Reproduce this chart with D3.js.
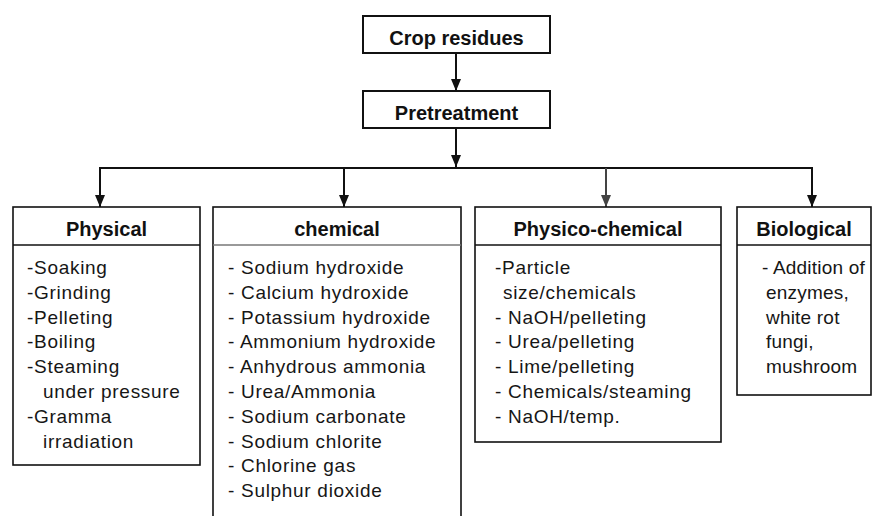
<!DOCTYPE html>
<html>
<head>
<meta charset="utf-8">
<script src="https://cdn.jsdelivr.net/npm/d3@7"></script>
<style>
  html, body { margin: 0; padding: 0; background: #fff; }
  svg { display: block; }
</style>
</head>
<body>
<div id="chart"></div>
<script>
// flowchart content
const rootLabels = ['Crop residues', 'Pretreatment'];
const groupTitles = ['Physical', 'chemical', 'Physico-chemical', 'Biological'];
// "|" marks a wrapped continuation line
const physicalItems = ['-Soaking', '-Grinding', '-Pelleting', '-Boiling', '-Steaming|under pressure', '-Gramma|irradiation'];
const chemicalItems = ['- Sodium hydroxide', '- Calcium hydroxide', '- Potassium hydroxide', '- Ammonium hydroxide',
  '- Anhydrous ammonia', '- Urea/Ammonia', '- Sodium carbonate', '- Sodium chlorite', '- Chlorine gas', '- Sulphur dioxide'];
const physicoItems = ['-Particle|size/chemicals', '- NaOH/pelleting', '- Urea/pelleting', '- Lime/pelleting',
  '- Chemicals/steaming', '- NaOH/temp.'];
const biologicalItems = ['- Addition of|enzymes,|white rot|fungi,|mushroom'];
const groupItems = [physicalItems, chemicalItems, physicoItems, biologicalItems];

// layout (kept apart from the content)
const W = 872, H = 516;
const rootBox = { x0: 363, x1: 550, tops: [16, 91], h: 37 };
const busY = 168;
const boxes = [
  { x0: 13,  x1: 200, bottom: 465, arrowX: 100, textX: 27,  indent: 16, spacing: 0.7 },
  { x0: 213, x1: 461, bottom: 530, arrowX: 344, textX: 228, indent: 0,  spacing: 0.7 },
  { x0: 475, x1: 721, bottom: 442, arrowX: 606, textX: 495, indent: 8,  spacing: 0.7 },
  { x0: 737, x1: 871, bottom: 395, arrowX: 812, textX: 762, indent: 4,  spacing: 0.2 }
];
const boxTop = 207, headerBottom = 245;
const firstBaseline = 274, lineStep = 24.8;
const rowY = d3.scaleLinear().domain([0, 1]).range([firstBaseline, firstBaseline + lineStep]);

const svg = d3.select('#chart').append('svg')
  .attr('width', W).attr('height', H)
  .style('font-family', '"Liberation Sans", Arial, sans-serif');

function arrow(x, y0, y1, color) {
  svg.append('line')
    .attr('x1', x).attr('x2', x).attr('y1', y0).attr('y2', y1)
    .attr('stroke', color || '#111').attr('stroke-width', 2);
  svg.append('path')
    .attr('d', 'M' + (x - 5) + ',' + (y1 - 12) + ' L' + (x + 5) + ',' + (y1 - 12) + ' L' + x + ',' + y1 + ' Z')
    .attr('fill', color || '#111');
}

// root boxes
rootLabels.forEach((label, i) => {
  const top = rootBox.tops[i];
  svg.append('rect')
    .attr('x', rootBox.x0).attr('y', top)
    .attr('width', rootBox.x1 - rootBox.x0).attr('height', rootBox.h)
    .attr('fill', '#fff').attr('stroke', '#111').attr('stroke-width', 2);
  svg.append('text')
    .attr('x', (rootBox.x0 + rootBox.x1) / 2).attr('y', top + 29)
    .attr('text-anchor', 'middle')
    .attr('font-size', 20).attr('font-weight', 'bold').attr('fill', '#111')
    .text(label);
});
const midX = (rootBox.x0 + rootBox.x1) / 2 - 0.5;
arrow(midX, rootBox.tops[0] + rootBox.h, rootBox.tops[1]);
arrow(midX, rootBox.tops[1] + rootBox.h, busY - 1);

// bus line
svg.append('line')
  .attr('x1', d3.min(boxes, b => b.arrowX) - 1).attr('x2', d3.max(boxes, b => b.arrowX) + 1)
  .attr('y1', busY).attr('y2', busY)
  .attr('stroke', '#111').attr('stroke-width', 2);

// group boxes
groupTitles.forEach((title, i) => {
  const b = boxes[i];
  arrow(b.arrowX, busY, boxTop, i === 2 ? '#444' : '#111');
  const g = svg.append('g');
  g.append('rect')
    .attr('x', b.x0).attr('y', boxTop)
    .attr('width', b.x1 - b.x0).attr('height', b.bottom - boxTop)
    .attr('fill', '#fff').attr('stroke', '#111').attr('stroke-width', 1.6);
  g.append('line')
    .attr('x1', b.x0).attr('x2', b.x1).attr('y1', headerBottom).attr('y2', headerBottom)
    .attr('stroke', i === 1 ? '#777' : '#111').attr('stroke-width', 1.6);
  g.append('text')
    .attr('x', (b.x0 + b.x1) / 2).attr('y', headerBottom - 9)
    .attr('text-anchor', 'middle')
    .attr('font-size', 20).attr('font-weight', 'bold').attr('fill', '#111')
    .text(title);

  let row = 0;
  groupItems[i].forEach(item => {
    item.split('|').forEach((part, k) => {
      g.append('text')
        .attr('x', b.textX + (k > 0 ? b.indent : 0))
        .attr('y', rowY(row))
        .attr('font-size', 19).attr('letter-spacing', b.spacing).attr('fill', '#161616')
        .text(part);
      row++;
    });
  });
});
</script>
</body>
</html>
